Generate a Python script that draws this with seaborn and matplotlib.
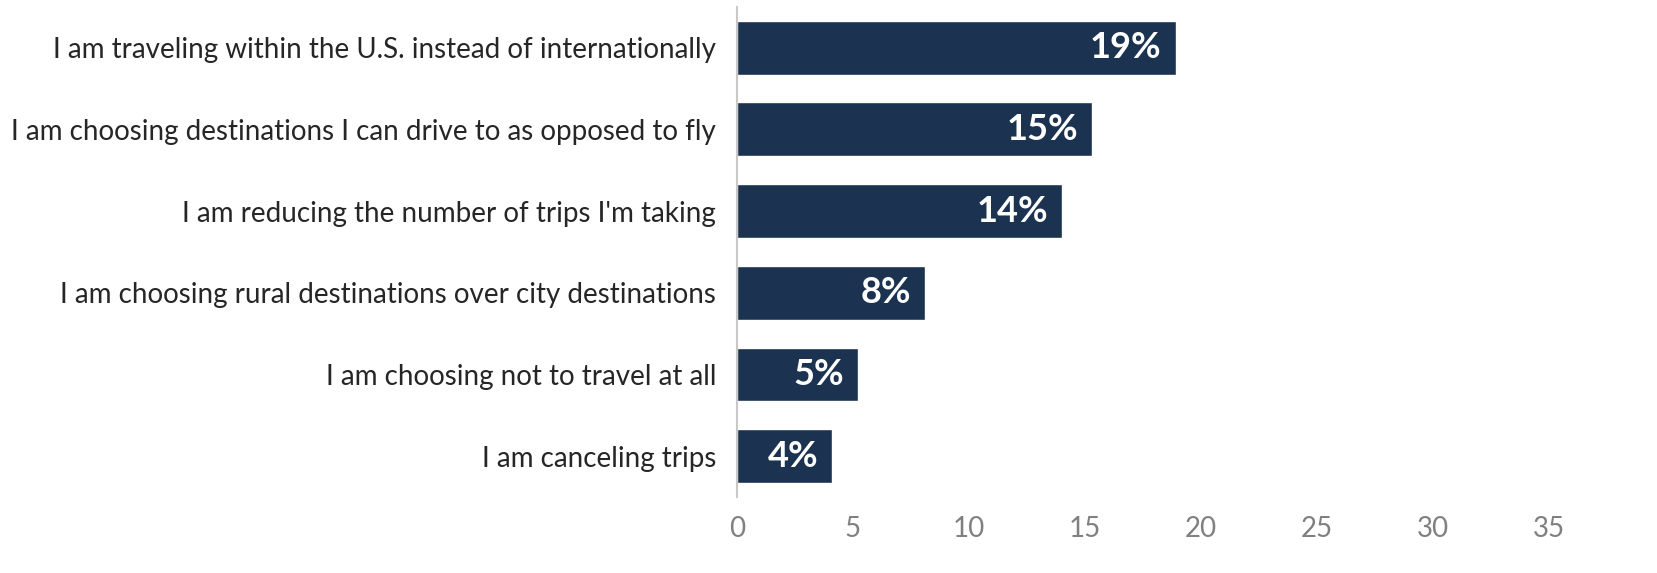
import matplotlib
matplotlib.use("Agg")
import matplotlib.pyplot as plt
import seaborn as sns
import pandas as pd

categories = [
    "I am traveling within the U.S. instead of internationally",
    "I am choosing destinations I can drive to as opposed to fly",
    "I am reducing the number of trips I'm taking",
    "I am choosing rural destinations over city destinations",
    "I am choosing not to travel at all",
    "I am canceling trips",
]
values = [18.9, 15.3, 14.0, 8.1, 5.2, 4.1]
value_labels = ["19%", "15%", "14%", "8%", "5%", "4%"]
x_ticks = [0, 5, 10, 15, 20, 25, 30, 35]

df = pd.DataFrame({"category": categories, "value": values})

sns.set_style("white")
plt.rcParams["font.family"] = ["Lato", "DejaVu Sans"]

fig = plt.figure(figsize=(16.58, 5.73), dpi=100)
ax = fig.add_axes([0.4445, 0.1326, 0.4898, 0.8554])

sns.barplot(data=df, y="category", x="value", orient="h", color="#1b3350",
            saturation=1, width=0.66, ax=ax)

for i, (v, lab) in enumerate(zip(values, value_labels)):
    ax.annotate(lab, xy=(v, i), xytext=(-10, 0), textcoords="offset points",
                ha="right", va="center", color="white", fontsize=26,
                fontweight="bold")

ax.set_xlim(0, 35)
ax.set_ylim(5.5, -0.5)
ax.set_xticks(x_ticks)
ax.set_xticklabels([str(t) for t in x_ticks])
ax.set_xlabel("")
ax.set_ylabel("")
ax.tick_params(axis="x", length=0, labelsize=20, colors="#808080", pad=14)
ax.tick_params(axis="y", length=0, labelsize=20, labelcolor="#262626", pad=15)
for s in ["top", "right", "bottom"]:
    ax.spines[s].set_visible(False)
ax.spines["left"].set_color("#c8c8c8")
ax.spines["left"].set_linewidth(1.5)

fig.savefig("out.png", dpi=100)
